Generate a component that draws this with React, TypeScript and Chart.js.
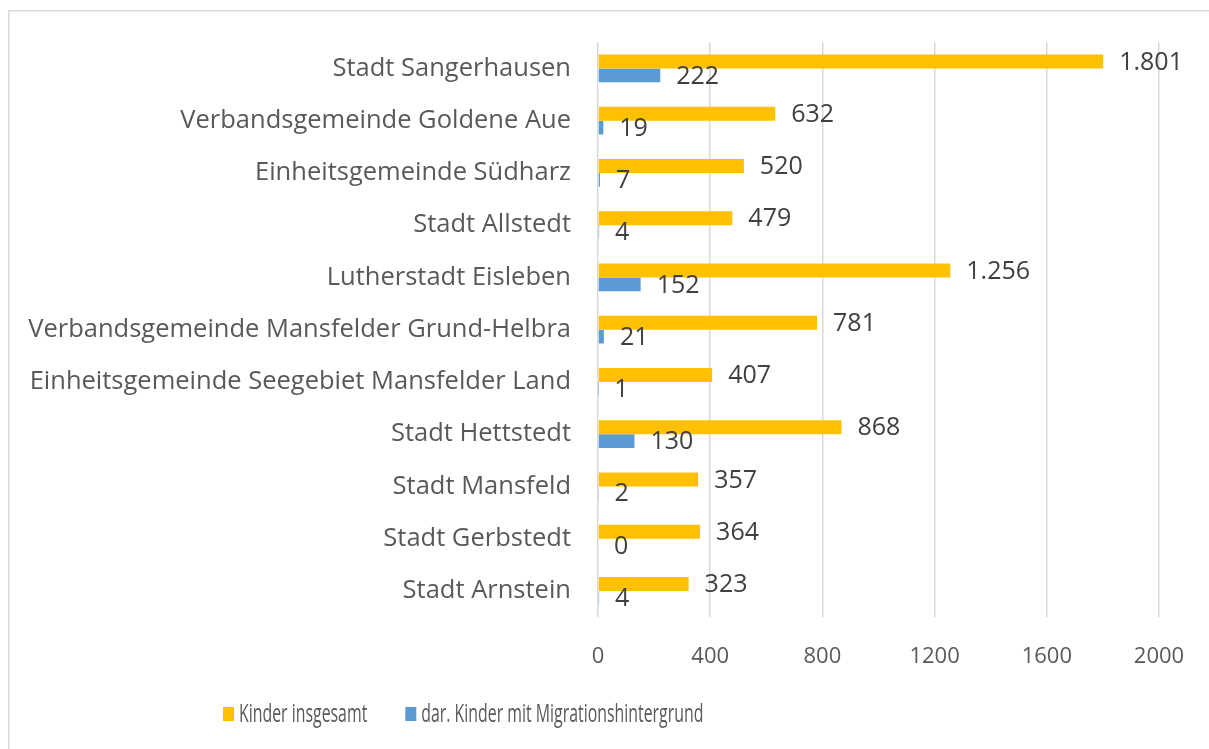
import React, { useEffect, useRef } from "react";
import { Chart, registerables } from "chart.js";

Chart.register(...registerables);

const categories = [
  "Stadt Sangerhausen",
  "Verbandsgemeinde Goldene Aue",
  "Einheitsgemeinde Südharz",
  "Stadt Allstedt",
  "Lutherstadt Eisleben",
  "Verbandsgemeinde Mansfelder Grund-Helbra",
  "Einheitsgemeinde Seegebiet Mansfelder Land",
  "Stadt Hettstedt",
  "Stadt Mansfeld",
  "Stadt Gerbstedt",
  "Stadt Arnstein",
];
const kinderInsgesamt = [1801, 632, 520, 479, 1256, 781, 407, 868, 357, 364, 323];
const kinderMigration = [222, 19, 7, 4, 152, 21, 1, 130, 2, 0, 4];
const seriesNames = ["Kinder insgesamt", "dar. Kinder mit Migrationshintergrund"];
const seriesColors = ["#FFC000", "#5B9BD5"];
const xMin = 0;
const xMax = 2000;
const xStep = 400;

const MAIN_FONT = "'Open Sans', 'DejaVu Sans', sans-serif";

function fmt(n: number): string {
  const s = String(Math.round(n));
  return s.replace(/\B(?=(\d{3})+(?!\d))/g, ".");
}

const framePlugin = {
  id: "frame",
  beforeDraw(chart: any) {
    const { ctx, width, height } = chart;
    ctx.save();
    ctx.fillStyle = "#FFFFFF";
    ctx.fillRect(0, 0, width, height);
    ctx.strokeStyle = "#D9D9D9";
    ctx.lineWidth = 1.5;
    ctx.beginPath();
    ctx.moveTo(8.75, height);
    ctx.lineTo(8.75, 10.75);
    ctx.lineTo(width, 10.75);
    ctx.stroke();
    ctx.restore();
  },
};

const dataLabelPlugin = {
  id: "dataLabels",
  afterDatasetsDraw(chart: any) {
    const { ctx } = chart;
    ctx.save();
    ctx.font = `25px ${MAIN_FONT}`;
    ctx.fillStyle = "#404040";
    ctx.textAlign = "left";
    ctx.textBaseline = "middle";
    chart.data.datasets.forEach((ds: any, i: number) => {
      const meta = chart.getDatasetMeta(i);
      meta.data.forEach((bar: any, j: number) => {
        ctx.fillText(fmt(ds.data[j]), bar.x + 16, bar.y + 1);
      });
    });
    ctx.restore();
  },
};

const LEGEND_SCALE_X = 0.635;

const legendPlugin = {
  id: "customLegend",
  afterDraw(chart: any) {
    const { ctx } = chart;
    ctx.save();
    ctx.font = `25px ${MAIN_FONT}`;
    ctx.textBaseline = "middle";
    ctx.textAlign = "left";
    let x = 223;
    const yc = 714;
    chart.data.datasets.forEach((ds: any) => {
      ctx.fillStyle = ds.backgroundColor;
      ctx.fillRect(x, yc - 7, 11, 14);
      ctx.fillStyle = "#595959";
      ctx.save();
      ctx.translate(x + 16, yc + 1);
      ctx.scale(LEGEND_SCALE_X, 1);
      ctx.fillText(ds.label, 0, 0);
      ctx.restore();
      x += 16 + ctx.measureText(ds.label).width * LEGEND_SCALE_X + 38;
    });
    ctx.restore();
  },
};

export default function App() {
  const ref = useRef<HTMLCanvasElement>(null);

  useEffect(() => {
    if (!ref.current) return;
    const chart = new Chart(ref.current, {
      type: "bar",
      data: {
        labels: categories,
        datasets: [
          {
            label: seriesNames[0],
            data: kinderInsgesamt,
            backgroundColor: seriesColors[0],
            categoryPercentage: 0.534,
            barPercentage: 1,
          },
          {
            label: seriesNames[1],
            data: kinderMigration,
            backgroundColor: seriesColors[1],
            categoryPercentage: 0.534,
            barPercentage: 1,
          },
        ],
      },
      options: {
        indexAxis: "y",
        responsive: false,
        animation: false,
        devicePixelRatio: 1,
        layout: { padding: { top: 40, right: 50, left: 0, bottom: 72 } },
        plugins: {
          legend: { display: false },
          tooltip: { enabled: false },
        },
        scales: {
          x: {
            min: xMin,
            max: xMax,
            ticks: {
              stepSize: xStep,
              color: "#595959",
              font: { family: MAIN_FONT, size: 22 },
              padding: 27,
              maxRotation: 0,
              callback: (v: any) => String(v),
            },
            grid: { color: "#D9D9D9", lineWidth: 1.5, drawTicks: false },
            border: { display: false },
            afterFit(scale: any) {
              scale.height = 60;
              scale.paddingLeft = 0;
              scale.paddingRight = 0;
            },
          },
          y: {
            ticks: {
              color: "#595959",
              font: { family: MAIN_FONT, size: 25.5 },
              padding: 27,
              autoSkip: false,
            },
            grid: { display: false, drawTicks: false },
            border: { display: false },
            afterFit(scale: any) {
              scale.width = 598;
            },
          },
        },
      },
      plugins: [framePlugin, dataLabelPlugin, legendPlugin],
    });
    return () => chart.destroy();
  }, []);

  return (
    <div style={{ position: "fixed", left: 0, top: 0, width: 1209, height: 749, background: "#fff" }}>
      <canvas ref={ref} width={1209} height={749} style={{ display: "block", width: 1209, height: 749 }} />
    </div>
  );
}
